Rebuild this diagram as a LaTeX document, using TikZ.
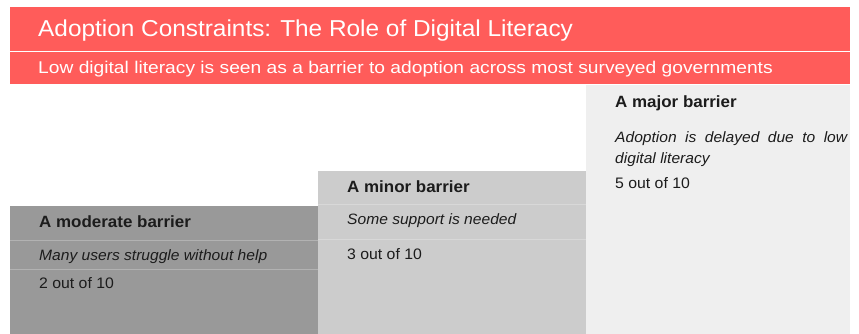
\documentclass[tikz,border=0pt]{standalone}
\usepackage{fontspec}
\setmainfont{Liberation Sans}
\newfontfamily\ttlfont[FakeStretch = 1.06]{Liberation Sans}
\newfontfamily\subfont[FakeStretch = 1.13]{Liberation Sans}
\newfontfamily\bodyfont[FakeStretch = 1.04]{Liberation Sans}
\definecolor{barred}{RGB}{255, 92, 90}
\definecolor{grayM}{RGB}{153, 153, 153}
\definecolor{grayL}{RGB}{204, 204, 204}
\definecolor{grayH}{RGB}{239, 239, 239}
\definecolor{inkD}{RGB}{28, 28, 28}

\begin{document}
\begin{tikzpicture}[x = 1pt, y = 1pt,
	slab/.style = {rectangle, anchor = south west, inner sep = 0pt, outer sep = 0pt},
	rule/.style = {white, opacity = 0.25, line width = 1pt},
	head/.style = {anchor = base west, inner sep = 0pt, text = inkD, font = \bodyfont\fontsize{16.3}{19}\selectfont\bfseries},
	note/.style = {anchor = base west, inner sep = 0pt, text = inkD, font = \bodyfont\fontsize{15}{21}\selectfont\itshape},
	score/.style = {anchor = base west, inner sep = 0pt, text = inkD, font = \bodyfont\fontsize{15.2}{18}\selectfont}]
			\useasboundingbox (0,0) rectangle (859,334);
			% header bars
			\node (ttl) at (10,283) [slab, fill = barred, minimum width = 840pt, minimum height = 44pt] {};
			\node (sub) at (10,250) [slab, fill = barred, minimum width = 840pt, minimum height = 32pt] {};
			\node (ttltext) at (38,297) [anchor = base west, inner sep = 0pt, text = white, font = \ttlfont\fontsize{23}{26}\selectfont] {Adoption Constraints: The Role of Digital Literacy};
			\node (subtext) at (38,260) [anchor = base west, inner sep = 0pt, text = white, font = \subfont\fontsize{17}{19}\selectfont] {Low digital literacy is seen as a barrier to adoption across most surveyed governments};
			% the three steps
			\node (modbox) at (10,0) [slab, fill = grayM, minimum width = 308pt, minimum height = 128pt] {};
			\node (minbox) at (318,0) [slab, fill = grayL, minimum width = 268pt, minimum height = 163pt] {};
			\node (majbox) at (586,0) [slab, fill = grayH, minimum width = 264pt, minimum height = 249pt] {};
			\draw[rule] (10,93) -- (318,93);
			\draw[rule] (10,64) -- (318,64);
			\draw[rule] (318,129) -- (586,129);
			\draw[rule] (318,94) -- (586,94);
			% moderate
			\node (modhead) at (39,106) [head] {A moderate barrier};
			\node (modnote) at (39,73) [note] {Many users struggle without help};
			\node (modscore) at (39,45) [score] {2 out of 10};
			% minor
			\node (minhead) at (347,141) [head] {A minor barrier};
			\node (minnote) at (347,109) [note] {Some support is needed};
			\node (minscore) at (347,74) [score] {3 out of 10};
			% major
			\node (majhead) at (615,226) [head] {A major barrier};
			\node (majnote) at (615,203) [note, anchor = north west, text width = 232pt, align = justify] {Adoption is delayed due to low digital literacy};
			\node (majscore) at (615,145) [score] {5 out of 10};
			\end{tikzpicture}
\end{document}
